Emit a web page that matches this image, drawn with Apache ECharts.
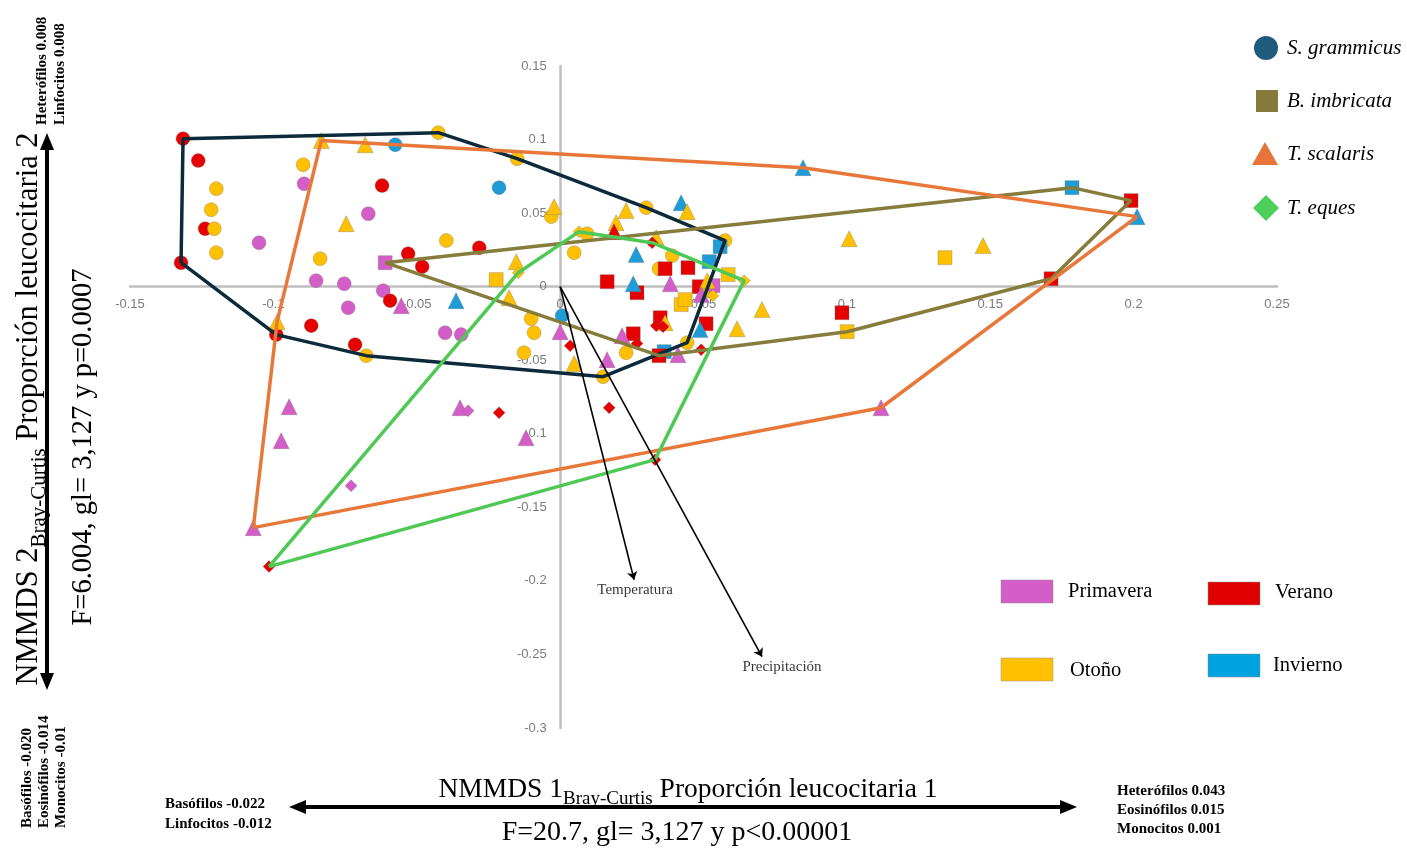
<!DOCTYPE html>
<html>
<head>
<meta charset="utf-8">
<script src="https://cdn.jsdelivr.net/npm/echarts@6.0.0/dist/echarts.min.js"></script>
<style>
  html, body { margin: 0; padding: 0; background: #ffffff; }
  #chart { width: 1407px; height: 849px; }
</style>
</head>
<body>
<div id="chart"></div>
<script>
// Seasons (index used in the third field of each point)
const SEASONS = ['Primavera', 'Verano', 'Otoño', 'Invierno'];
const SEASON_COLORS = ['#D45EC7', '#E60000', '#FFC000', '#1E9CD8'];

// Species
const SPECIES = ['S. grammicus', 'B. imbricata', 'T. scalaris', 'T. eques'];
const SPECIES_SYMBOLS = ['circle', 'rect', 'triangle', 'diamond'];
const SPECIES_HULL_COLORS = ['#0D2A3A', '#867C3C', '#E8773A', '#50C856'];

// NMMDS scores: [axis 1, axis 2, season index]
const grammicus = [
  [-0.1315, 0.1006, 1], [-0.1262, 0.0857, 1], [-0.1199, 0.0666, 2], [-0.1217, 0.0523, 2],
  [-0.1238, 0.0394, 1], [-0.1206, 0.0394, 2], [-0.1199, 0.0231, 2], [-0.1322, 0.0163, 1],
  [-0.1050, 0.0299, 0], [-0.0896, 0.0829, 2], [-0.0893, 0.0700, 0], [-0.0621, 0.0687, 1],
  [-0.0669, 0.0496, 0], [-0.0575, 0.0965, 3], [-0.0425, 0.1047, 2], [-0.0150, 0.0870, 2],
  [-0.0213, 0.0673, 3], [-0.0031, 0.0476, 2], [-0.0397, 0.0313, 2], [-0.0530, 0.0224, 1],
  [-0.0282, 0.0265, 1], [-0.0481, 0.0136, 1], [-0.0837, 0.0190, 2], [-0.0851, 0.0041, 0],
  [-0.0753, 0.0020, 0], [-0.0617, -0.0027, 0], [-0.0739, -0.0143, 0], [-0.0593, -0.0095, 1],
  [-0.0990, -0.0326, 1], [-0.0868, -0.0265, 1], [-0.0715, -0.0394, 1], [-0.0676, -0.0469, 2],
  [-0.0401, -0.0313, 0], [-0.0345, -0.0326, 0], [-0.0101, -0.0218, 2], [-0.0091, -0.0313, 2],
  [-0.0126, -0.0449, 2], [0.0007, -0.0197, 3], [0.0300, 0.0537, 2], [0.0094, 0.0360, 2],
  [0.0049, 0.0231, 2], [0.0391, 0.0211, 2], [0.0345, 0.0122, 2], [0.0575, 0.0313, 2],
  [0.0443, -0.0381, 2], [0.0230, -0.0449, 2], [0.0150, -0.0612, 2]
];

const imbricata = [
  [-0.0610, 0.0163, 0], [-0.0223, 0.0048, 2], [0.0164, 0.0034, 1], [0.0268, -0.0041, 1],
  [0.0366, 0.0122, 1], [0.0446, 0.0129, 1], [0.0558, 0.0272, 3], [0.0520, 0.0170, 3],
  [0.0586, 0.0082, 2], [0.0485, 0.0000, 1], [0.0533, 0.0007, 0], [0.0422, -0.0122, 2],
  [0.0436, -0.0088, 2], [0.0509, -0.0252, 1], [0.0349, -0.0211, 1], [0.0255, -0.0320, 1],
  [0.0363, -0.0442, 3], [0.0345, -0.0469, 1], [0.0983, -0.0177, 1], [0.1001, -0.0306, 2],
  [0.1342, 0.0197, 2], [0.1712, 0.0054, 1], [0.1785, 0.0673, 3], [0.1991, 0.0585, 1]
];

const scalaris = [
  [-0.0833, 0.0993, 2], [-0.0680, 0.0965, 2], [-0.0746, 0.0428, 2], [-0.0021, 0.0544, 2],
  [-0.0153, 0.0170, 2], [-0.0178, -0.0075, 2], [-0.0987, -0.0238, 2], [-0.0554, -0.0129, 0],
  [-0.0363, -0.0095, 3], [0.0000, -0.0306, 0], [-0.0945, -0.0816, 0], [-0.0973, -0.1047, 0],
  [-0.0349, -0.0823, 0], [-0.0119, -0.1027, 0], [-0.1070, -0.1638, 0], [0.0230, 0.0517, 2],
  [0.0422, 0.0571, 3], [0.0443, 0.0510, 2], [0.0195, 0.0435, 2], [0.0188, 0.0374, 1],
  [0.0335, 0.0333, 2], [0.0265, 0.0218, 3], [0.0255, 0.0020, 3], [0.0384, 0.0020, 0],
  [0.0502, -0.0020, 2], [0.0513, 0.0041, 2], [0.0492, -0.0054, 0], [0.0704, -0.0156, 2],
  [0.0617, -0.0286, 2], [0.0488, -0.0292, 3], [0.0366, -0.0245, 2], [0.0216, -0.0333, 0],
  [0.0164, -0.0496, 0], [0.0049, -0.0523, 2], [0.0847, 0.0809, 3], [0.2012, 0.0476, 3],
  [0.1008, 0.0326, 2], [0.1475, 0.0279, 2], [0.1119, -0.0823, 0], [0.0411, -0.0462, 0]
];

const eques = [
  [-0.0146, 0.0095, 2], [0.0066, 0.0374, 2], [0.0321, 0.0299, 1], [0.0642, 0.0041, 2],
  [0.0533, -0.0061, 2], [0.0335, -0.0265, 1], [0.0359, -0.0272, 1], [0.0268, -0.0387, 1],
  [0.0492, -0.0428, 1], [0.0035, -0.0401, 1], [0.0171, -0.0823, 1], [0.0331, -0.1176, 1],
  [-0.0213, -0.0857, 1], [-0.0321, -0.0843, 0], [-0.0729, -0.1353, 0], [-0.1015, -0.1903, 1]
];

const SPECIES_POINTS = [grammicus, imbricata, scalaris, eques];

// Environmental vectors fitted on the ordination
const VECTOR_NAMES = ['Temperatura', 'Precipitación'];
const VECTOR_X = [0.0258, 0.0704];
const VECTOR_Y = [-0.1992, -0.2515];

// Axis ranges and tick labels
const X_MIN = -0.15, X_MAX = 0.25, Y_MIN = -0.3, Y_MAX = 0.15, STEP = 0.05;
const X_TICKS = [-0.15, -0.1, -0.05, 0, 0.05, 0.1, 0.15, 0.2, 0.25];
const Y_TICKS = [0.15, 0.1, 0.05, 0, -0.05, -0.1, -0.15, -0.2, -0.25, -0.3];

// Convex hull (monotone chain), returned closed
function convexHull(pts) {
  const p = pts.map(d => [d[0], d[1]]).sort((a, b) => a[0] - b[0] || a[1] - b[1]);
  const cross = (o, a, b) => (a[0] - o[0]) * (b[1] - o[1]) - (a[1] - o[1]) * (b[0] - o[0]);
  const lower = [], upper = [];
  for (const q of p) {
    while (lower.length >= 2 && cross(lower[lower.length - 2], lower[lower.length - 1], q) <= 0) lower.pop();
    lower.push(q);
  }
  for (let i = p.length - 1; i >= 0; i--) {
    const q = p[i];
    while (upper.length >= 2 && cross(upper[upper.length - 2], upper[upper.length - 1], q) <= 0) upper.pop();
    upper.push(q);
  }
  const hull = lower.slice(0, -1).concat(upper.slice(0, -1));
  hull.push(hull[0]);
  return hull;
}

const SERIF = "'Liberation Serif', 'Times New Roman', serif";
const SANS = "'Liberation Sans', Arial, sans-serif";
const fmt = v => String(+v.toFixed(2));

const series = [];
const symbolSizes = [14, 14, 16, 12];

// Tick labels sitting on the zero lines (axes cross at the origin)
const tickLabel = { color: '#595959', fontSize: 13, fontFamily: SANS };
series.push({
  name: 'x ticks', type: 'scatter', symbolSize: 1, silent: true, z: 1,
  itemStyle: { color: 'rgba(0,0,0,0)' },
  data: X_TICKS.map(v => [v, 0]),
  label: Object.assign({ show: true, position: 'bottom', distance: 11, formatter: p => fmt(p.value[0]) }, tickLabel)
});
series.push({
  name: 'y ticks', type: 'scatter', symbolSize: 1, silent: true, z: 1,
  itemStyle: { color: 'rgba(0,0,0,0)' },
  data: Y_TICKS.map(v => [0, v]),
  label: Object.assign({ show: true, position: 'left', distance: 13, formatter: p => fmt(p.value[1]) }, tickLabel)
});

SPECIES.forEach((name, i) => {
  series.push({
    name: name,
    type: 'scatter',
    symbol: SPECIES_SYMBOLS[i],
    symbolSize: symbolSizes[i],
    data: SPECIES_POINTS[i],
    itemStyle: {
      color: p => SEASON_COLORS[p.data[2]],
      borderColor: 'rgba(110,110,110,0.55)',
      borderWidth: 0.6,
      opacity: 1
    },
    z: 2
  });
});

SPECIES.forEach((name, i) => {
  series.push({
    name: name + ' hull',
    type: 'line',
    data: convexHull(SPECIES_POINTS[i]),
    showSymbol: false,
    symbol: 'none',
    lineStyle: { color: SPECIES_HULL_COLORS[i], width: 3.5 },
    z: 3,
    silent: true
  });
});

series.push({
  name: 'vectors',
  type: 'lines',
  coordinateSystem: 'cartesian2d',
  symbol: ['none', 'arrow'],
  symbolSize: 8,
  lineStyle: { color: '#000000', width: 1.6, opacity: 1, curveness: 0 },
  data: VECTOR_NAMES.map((n, i) => ({ coords: [[0, 0], [VECTOR_X[i], VECTOR_Y[i]]] })),
  z: 5,
  silent: true
});

const vectorLabelOffsets = [[1, 0], [20, 0]];
series.push({
  name: 'vector labels',
  type: 'scatter',
  symbolSize: 1,
  itemStyle: { color: 'rgba(0,0,0,0)' },
  data: VECTOR_NAMES.map((n, i) => ({
    value: [VECTOR_X[i], VECTOR_Y[i]],
    name: n,
    label: { offset: vectorLabelOffsets[i] }
  })),
  label: {
    show: true,
    position: 'bottom',
    distance: 2,
    formatter: p => p.name,
    color: '#000000',
    fontFamily: SERIF,
    fontSize: 15
  },
  z: 6,
  silent: true
});

// Page annotations: axis titles, direction arrows and legends
const graphic = [];
function txt(x, y, text, opts) {
  graphic.push(Object.assign({
    type: 'text', x: x, y: y,
    style: Object.assign({ text: text, fill: '#000', fontFamily: SERIF, fontSize: 14,
      align: 'left', verticalAlign: 'middle' }, opts.style || {})
  }, opts.el || {}));
}
const richTitle = (a, sub, b, size, subSize, pad) => ({
  text: '{m|' + a + '}{s|' + sub + '}{m|' + b + '}',
  align: 'center', verticalAlign: 'middle',
  rich: {
    m: { fontSize: size, fontFamily: SERIF, fill: '#000' },
    s: { fontSize: subSize, fontFamily: SERIF, fill: '#000', padding: [pad, 0, 0, 0], verticalAlign: 'bottom' }
  }
});

// Horizontal axis annotation
graphic.push({ type: 'text', x: 688, y: 790, style: richTitle('NMMDS 1', 'Bray-Curtis', ' Proporción leucocitaria 1', 27.5, 19, 18) });
txt(677, 833, 'F=20.7, gl= 3,127 y p<0.00001', { style: { fontSize: 28, align: 'center' } });
graphic.push({ type: 'line', shape: { x1: 300, y1: 807, x2: 1066, y2: 807 }, style: { stroke: '#000', lineWidth: 4 } });
graphic.push({ type: 'polygon', shape: { points: [[289, 807], [306, 800], [306, 814]] }, style: { fill: '#000' } });
graphic.push({ type: 'polygon', shape: { points: [[1077, 807], [1060, 800], [1060, 814]] }, style: { fill: '#000' } });
const boldSmall = { fontWeight: 'bold', fontSize: 15 };
txt(165, 804, 'Basófilos -0.022', { style: boldSmall });
txt(165, 824, 'Linfocitos -0.012', { style: boldSmall });
txt(1117, 791, 'Heterófilos 0.043', { style: boldSmall });
txt(1117, 810, 'Eosinófilos 0.015', { style: boldSmall });
txt(1117, 829, 'Monocitos 0.001', { style: boldSmall });

// Vertical axis annotation
const ROT = Math.PI / 2;
graphic.push({ type: 'text', x: 29, y: 409, rotation: ROT, style: richTitle('NMMDS 2', 'Bray-Curtis', ' Proporción leucocitaria 2', 30.5, 21, 20) });
txt(84, 447, 'F=6.004, gl= 3,127 y p=0.0007', { style: { fontSize: 28.5, align: 'center' }, el: { rotation: ROT } });
graphic.push({ type: 'line', shape: { x1: 47, y1: 145, x2: 47, y2: 679 }, style: { stroke: '#000', lineWidth: 4 } });
graphic.push({ type: 'polygon', shape: { points: [[47, 133], [40, 150], [54, 150]] }, style: { fill: '#000' } });
graphic.push({ type: 'polygon', shape: { points: [[47, 690], [40, 673], [54, 673]] }, style: { fill: '#000' } });
txt(42, 125, 'Heterófilos 0.008', { style: boldSmall, el: { rotation: ROT } });
txt(60, 125, 'Linfocitos 0.008', { style: boldSmall, el: { rotation: ROT } });
txt(27, 828, 'Basófilos -0.020', { style: boldSmall, el: { rotation: ROT } });
txt(44, 828, 'Eosinófilos -0.014', { style: boldSmall, el: { rotation: ROT } });
txt(61, 828, 'Monocitos -0.01', { style: boldSmall, el: { rotation: ROT } });

// Species legend
const legendFill = ['#1E5B7C', '#857A3B', '#E8743B', '#4DD05B'];
const legendY = [48, 101, 154, 208];
graphic.push({ type: 'circle', shape: { cx: 1266, cy: legendY[0], r: 12 }, style: { fill: legendFill[0] } });
graphic.push({ type: 'rect', shape: { x: 1256, y: legendY[1] - 11, width: 22, height: 22 }, style: { fill: legendFill[1] } });
graphic.push({ type: 'polygon', shape: { points: [[1265, legendY[2] - 12], [1252, legendY[2] + 11], [1278, legendY[2] + 11]] }, style: { fill: legendFill[2] } });
graphic.push({ type: 'polygon', shape: { points: [[1266, legendY[3] - 13], [1279, legendY[3]], [1266, legendY[3] + 13], [1253, legendY[3]]] }, style: { fill: legendFill[3] } });
SPECIES.forEach((s, i) => txt(1287, legendY[i], s, { style: { fontSize: 21, fontStyle: 'italic' } }));

// Season legend
const seasonBox = [[1001, 580], [1208, 582], [1001, 658], [1208, 654]];
const seasonText = [[1068, 592], [1275, 593], [1070, 671], [1273, 666]];
const seasonSwatch = ['#D45EC7', '#E00000', '#FFC000', '#00A3E0'];
SEASONS.forEach((s, i) => {
  graphic.push({ type: 'rect', shape: { x: seasonBox[i][0], y: seasonBox[i][1], width: 52, height: 23 },
    style: { fill: seasonSwatch[i], stroke: 'rgba(140,140,140,0.6)', lineWidth: 0.8 } });
  txt(seasonText[i][0], seasonText[i][1], s, { style: { fontSize: 20.5 } });
});

const chart = echarts.init(document.getElementById('chart'), null, { renderer: 'canvas' });
chart.setOption({
  animation: false,
  backgroundColor: '#ffffff',
  grid: { left: 130, right: 130, top: 66, bottom: 121, containLabel: false },
  xAxis: {
    type: 'value', min: X_MIN, max: X_MAX, interval: STEP,
    axisLine: { onZero: true, lineStyle: { color: '#BFBFBF', width: 2.5 } },
    axisTick: { show: false },
    splitLine: { show: false },
    axisLabel: { show: false }
  },
  yAxis: {
    type: 'value', min: Y_MIN, max: Y_MAX, interval: STEP,
    axisLine: { onZero: true, lineStyle: { color: '#BFBFBF', width: 2.5 } },
    axisTick: { show: false },
    splitLine: { show: false },
    axisLabel: { show: false }
  },
  series: series,
  graphic: graphic
});
</script>
</body>
</html>
